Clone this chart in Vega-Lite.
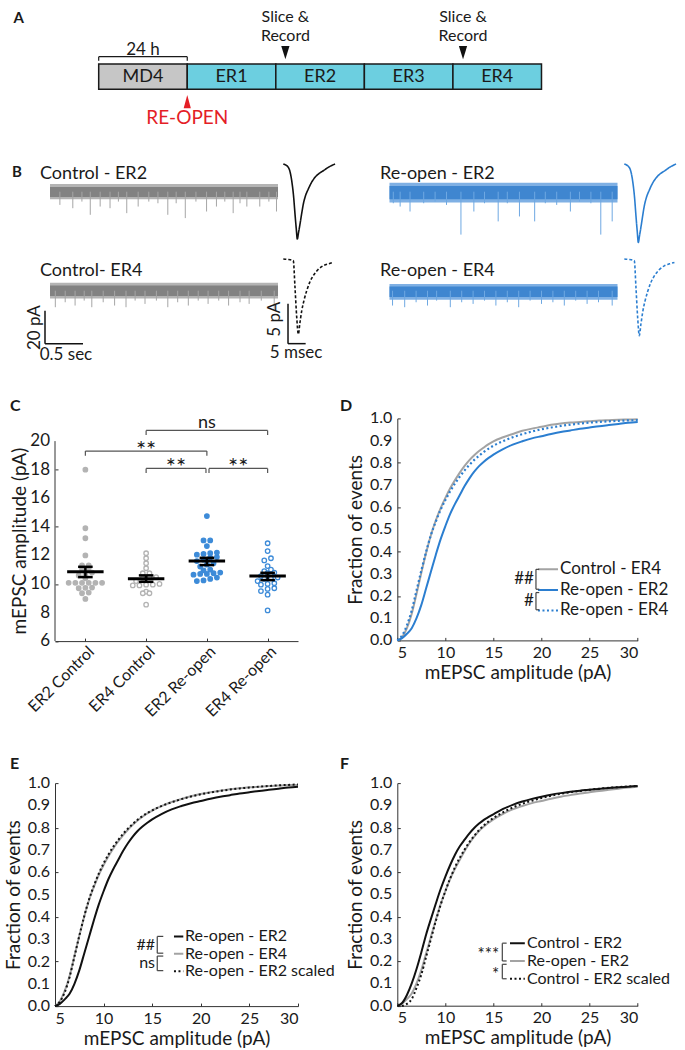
{
"$schema":"https://vega.github.io/schema/vega-lite/v6.json",
"autosize":{"type":"none"},
"padding":{"left":55,"top":10,"right":630,"bottom":1040},
"background":"white",
"config":{"font":"Lato","view":{"stroke":null},
"axis":{"grid":false,"labelFont":"Lato","titleFont":"Lato","labelFontSize":16,"titleFontSize":19,"titleFontWeight":"normal","labelColor":"#1a1a1a","titleColor":"#1a1a1a","domainColor":"#333333","tickColor":"#333333","tickSize":-3,"labelPadding":7,"labelOverlap":false},
"point":{"opacity":1},
"text":{"font":"Lato","color":"#1a1a1a"}},
"resolve":{"scale":{"color":"independent","fill":"independent","stroke":"independent","strokeDash":"independent"}},
"datasets":{
"segments":[{"phase":"MD4","stage":"Deprived","start":-1,"end":0},{"phase":"ER1","stage":"Re-opened","start":0,"end":1},{"phase":"ER2","stage":"Re-opened","start":1,"end":2},{"phase":"ER3","stage":"Re-opened","start":2,"end":3},{"phase":"ER4","stage":"Re-opened","start":3,"end":4}],
"events":[{"event":"Slice & Record","day":1.108},{"event":"Slice & Record","day":3.114}],
"bands":[{"cond":"Control","day":"ER2","start":0,"end":3,"lo":-3.2,"hi":2.8,"flo":-4.6,"fhi":4.6},{"cond":"Control","day":"ER4","start":0,"end":3,"lo":-3.2,"hi":3.2,"flo":-4.8,"fhi":4.8},{"cond":"Re-open","day":"ER2","start":0,"end":3,"lo":-4.5,"hi":3.5,"flo":-6.5,"fhi":5.5},{"cond":"Re-open","day":"ER4","start":0,"end":3,"lo":-3.8,"hi":2.5,"flo":-5.5,"fhi":4}],
"spikes":[
{"cond":"Control","day":"ER2","t":0.13,"amp":8},{"cond":"Control","day":"ER2","t":0.3,"amp":10},{"cond":"Control","day":"ER2","t":0.42,"amp":6},{"cond":"Control","day":"ER2","t":0.53,"amp":14},{"cond":"Control","day":"ER2","t":0.66,"amp":9},{"cond":"Control","day":"ER2","t":0.79,"amp":10},{"cond":"Control","day":"ER2","t":0.9,"amp":6},{"cond":"Control","day":"ER2","t":1.01,"amp":13},{"cond":"Control","day":"ER2","t":1.16,"amp":9},{"cond":"Control","day":"ER2","t":1.3,"amp":6},{"cond":"Control","day":"ER2","t":1.42,"amp":7},{"cond":"Control","day":"ER2","t":1.55,"amp":14},{"cond":"Control","day":"ER2","t":1.66,"amp":7},{"cond":"Control","day":"ER2","t":1.78,"amp":16},{"cond":"Control","day":"ER2","t":1.92,"amp":6},{"cond":"Control","day":"ER2","t":2.06,"amp":12},{"cond":"Control","day":"ER2","t":2.19,"amp":9},{"cond":"Control","day":"ER2","t":2.3,"amp":6},{"cond":"Control","day":"ER2","t":2.41,"amp":13},{"cond":"Control","day":"ER2","t":2.5,"amp":7},{"cond":"Control","day":"ER2","t":2.59,"amp":9},{"cond":"Control","day":"ER2","t":2.76,"amp":9},{"cond":"Control","day":"ER2","t":2.88,"amp":6},{"cond":"Control","day":"ER2","t":2.98,"amp":12},
{"cond":"Control","day":"ER4","t":0.07,"amp":10},{"cond":"Control","day":"ER4","t":0.2,"amp":7},{"cond":"Control","day":"ER4","t":0.33,"amp":9},{"cond":"Control","day":"ER4","t":0.45,"amp":6},{"cond":"Control","day":"ER4","t":0.55,"amp":10},{"cond":"Control","day":"ER4","t":0.7,"amp":7},{"cond":"Control","day":"ER4","t":0.85,"amp":9},{"cond":"Control","day":"ER4","t":1.0,"amp":10},{"cond":"Control","day":"ER4","t":1.12,"amp":6},{"cond":"Control","day":"ER4","t":1.25,"amp":8},{"cond":"Control","day":"ER4","t":1.4,"amp":6},{"cond":"Control","day":"ER4","t":1.55,"amp":10},{"cond":"Control","day":"ER4","t":1.68,"amp":7},{"cond":"Control","day":"ER4","t":1.82,"amp":9},{"cond":"Control","day":"ER4","t":1.95,"amp":6},{"cond":"Control","day":"ER4","t":2.08,"amp":8},{"cond":"Control","day":"ER4","t":2.22,"amp":6},{"cond":"Control","day":"ER4","t":2.35,"amp":9},{"cond":"Control","day":"ER4","t":2.5,"amp":7},{"cond":"Control","day":"ER4","t":2.62,"amp":8},{"cond":"Control","day":"ER4","t":2.78,"amp":6},{"cond":"Control","day":"ER4","t":2.95,"amp":11},
{"cond":"Re-open","day":"ER2","t":0.05,"amp":7},{"cond":"Re-open","day":"ER2","t":0.14,"amp":9},{"cond":"Re-open","day":"ER2","t":0.27,"amp":12},{"cond":"Re-open","day":"ER2","t":0.45,"amp":7},{"cond":"Re-open","day":"ER2","t":0.6,"amp":6},{"cond":"Re-open","day":"ER2","t":0.75,"amp":8},{"cond":"Re-open","day":"ER2","t":0.94,"amp":26},{"cond":"Re-open","day":"ER2","t":1.11,"amp":12},{"cond":"Re-open","day":"ER2","t":1.25,"amp":7},{"cond":"Re-open","day":"ER2","t":1.43,"amp":18},{"cond":"Re-open","day":"ER2","t":1.55,"amp":7},{"cond":"Re-open","day":"ER2","t":1.71,"amp":15},{"cond":"Re-open","day":"ER2","t":1.91,"amp":18},{"cond":"Re-open","day":"ER2","t":2.05,"amp":7},{"cond":"Re-open","day":"ER2","t":2.2,"amp":8},{"cond":"Re-open","day":"ER2","t":2.38,"amp":12},{"cond":"Re-open","day":"ER2","t":2.5,"amp":6},{"cond":"Re-open","day":"ER2","t":2.65,"amp":7},{"cond":"Re-open","day":"ER2","t":2.78,"amp":26},{"cond":"Re-open","day":"ER2","t":2.93,"amp":18},
{"cond":"Re-open","day":"ER4","t":0.04,"amp":9},{"cond":"Re-open","day":"ER4","t":0.2,"amp":10},{"cond":"Re-open","day":"ER4","t":0.35,"amp":7},{"cond":"Re-open","day":"ER4","t":0.5,"amp":9},{"cond":"Re-open","day":"ER4","t":0.62,"amp":6},{"cond":"Re-open","day":"ER4","t":0.8,"amp":10},{"cond":"Re-open","day":"ER4","t":0.95,"amp":7},{"cond":"Re-open","day":"ER4","t":1.1,"amp":8},{"cond":"Re-open","day":"ER4","t":1.25,"amp":6},{"cond":"Re-open","day":"ER4","t":1.4,"amp":9},{"cond":"Re-open","day":"ER4","t":1.55,"amp":7},{"cond":"Re-open","day":"ER4","t":1.7,"amp":10},{"cond":"Re-open","day":"ER4","t":1.85,"amp":6},{"cond":"Re-open","day":"ER4","t":2.0,"amp":8},{"cond":"Re-open","day":"ER4","t":2.15,"amp":7},{"cond":"Re-open","day":"ER4","t":2.3,"amp":9},{"cond":"Re-open","day":"ER4","t":2.45,"amp":6},{"cond":"Re-open","day":"ER4","t":2.6,"amp":8},{"cond":"Re-open","day":"ER4","t":2.75,"amp":7},{"cond":"Re-open","day":"ER4","t":2.93,"amp":9}],
"waves":[
{"cond":"Control","day":"ER2","t":0,"pA":0},{"cond":"Control","day":"ER2","t":1.42,"pA":-0.42},{"cond":"Control","day":"ER2","t":2.38,"pA":-2.09},{"cond":"Control","day":"ER2","t":2.9,"pA":-4.0},{"cond":"Control","day":"ER2","t":3.31,"pA":-6.25},{"cond":"Control","day":"ER2","t":3.65,"pA":-8.0},{"cond":"Control","day":"ER2","t":3.97,"pA":-9.375},{"cond":"Control","day":"ER2","t":4.3,"pA":-8.6},{"cond":"Control","day":"ER2","t":4.73,"pA":-7.5},{"cond":"Control","day":"ER2","t":5.2,"pA":-6.2},{"cond":"Control","day":"ER2","t":5.67,"pA":-5.0},{"cond":"Control","day":"ER2","t":6.3,"pA":-3.95},{"cond":"Control","day":"ER2","t":7.08,"pA":-3.125},{"cond":"Control","day":"ER2","t":8,"pA":-2.3},{"cond":"Control","day":"ER2","t":8.98,"pA":-1.67},{"cond":"Control","day":"ER2","t":10.1,"pA":-1.2},{"cond":"Control","day":"ER2","t":11.33,"pA":-0.84},{"cond":"Control","day":"ER2","t":13,"pA":-0.35},{"cond":"Control","day":"ER2","t":14.65,"pA":0},
{"cond":"Control","day":"ER4","t":0,"pA":0},{"cond":"Control","day":"ER4","t":1.2,"pA":-0.05},{"cond":"Control","day":"ER4","t":2.38,"pA":-0.125},{"cond":"Control","day":"ER4","t":2.83,"pA":-0.21},{"cond":"Control","day":"ER4","t":3.31,"pA":-3.55},{"cond":"Control","day":"ER4","t":3.8,"pA":-7.3},{"cond":"Control","day":"ER4","t":4.25,"pA":-9.4},{"cond":"Control","day":"ER4","t":4.7,"pA":-8.0},{"cond":"Control","day":"ER4","t":5.21,"pA":-6.5},{"cond":"Control","day":"ER4","t":5.9,"pA":-5.1},{"cond":"Control","day":"ER4","t":6.63,"pA":-3.96},{"cond":"Control","day":"ER4","t":7.5,"pA":-2.9},{"cond":"Control","day":"ER4","t":8.5,"pA":-2.08},{"cond":"Control","day":"ER4","t":9.8,"pA":-1.35},{"cond":"Control","day":"ER4","t":11.3,"pA":-0.84},{"cond":"Control","day":"ER4","t":12.8,"pA":-0.6},{"cond":"Control","day":"ER4","t":14.2,"pA":-0.42},
{"cond":"Re-open","day":"ER2","t":0,"pA":0},{"cond":"Re-open","day":"ER2","t":1.42,"pA":-0.44},{"cond":"Re-open","day":"ER2","t":2.38,"pA":-2.18},{"cond":"Re-open","day":"ER2","t":2.9,"pA":-4.18},{"cond":"Re-open","day":"ER2","t":3.31,"pA":-6.53},{"cond":"Re-open","day":"ER2","t":3.65,"pA":-8.36},{"cond":"Re-open","day":"ER2","t":3.97,"pA":-9.8},{"cond":"Re-open","day":"ER2","t":4.3,"pA":-8.99},{"cond":"Re-open","day":"ER2","t":4.73,"pA":-7.84},{"cond":"Re-open","day":"ER2","t":5.2,"pA":-6.48},{"cond":"Re-open","day":"ER2","t":5.67,"pA":-5.23},{"cond":"Re-open","day":"ER2","t":6.3,"pA":-4.13},{"cond":"Re-open","day":"ER2","t":7.08,"pA":-3.27},{"cond":"Re-open","day":"ER2","t":8,"pA":-2.4},{"cond":"Re-open","day":"ER2","t":8.98,"pA":-1.75},{"cond":"Re-open","day":"ER2","t":10.1,"pA":-1.25},{"cond":"Re-open","day":"ER2","t":11.33,"pA":-0.88},{"cond":"Re-open","day":"ER2","t":13,"pA":-0.37},{"cond":"Re-open","day":"ER2","t":14.65,"pA":0},
{"cond":"Re-open","day":"ER4","t":0,"pA":0},{"cond":"Re-open","day":"ER4","t":1.2,"pA":-0.05},{"cond":"Re-open","day":"ER4","t":2.38,"pA":-0.13},{"cond":"Re-open","day":"ER4","t":2.83,"pA":-0.21},{"cond":"Re-open","day":"ER4","t":3.31,"pA":-3.62},{"cond":"Re-open","day":"ER4","t":3.8,"pA":-7.45},{"cond":"Re-open","day":"ER4","t":4.25,"pA":-9.59},{"cond":"Re-open","day":"ER4","t":4.7,"pA":-8.16},{"cond":"Re-open","day":"ER4","t":5.21,"pA":-6.63},{"cond":"Re-open","day":"ER4","t":5.9,"pA":-5.2},{"cond":"Re-open","day":"ER4","t":6.63,"pA":-4.04},{"cond":"Re-open","day":"ER4","t":7.5,"pA":-2.96},{"cond":"Re-open","day":"ER4","t":8.5,"pA":-2.12},{"cond":"Re-open","day":"ER4","t":9.8,"pA":-1.38},{"cond":"Re-open","day":"ER4","t":11.3,"pA":-0.86},{"cond":"Re-open","day":"ER4","t":12.8,"pA":-0.61},{"cond":"Re-open","day":"ER4","t":14.2,"pA":-0.43}],
"amps":[
{"day":"ER2","cond":"Control","amp":18.0},{"day":"ER2","cond":"Control","amp":13.9},{"day":"ER2","cond":"Control","amp":13.2},{"day":"ER2","cond":"Control","amp":12.0},{"day":"ER2","cond":"Control","amp":11.3},{"day":"ER2","cond":"Control","amp":11.3},{"day":"ER2","cond":"Control","amp":11.1},{"day":"ER2","cond":"Control","amp":11.05},{"day":"ER2","cond":"Control","amp":10.8},{"day":"ER2","cond":"Control","amp":10.6},{"day":"ER2","cond":"Control","amp":10.6},{"day":"ER2","cond":"Control","amp":10.4},{"day":"ER2","cond":"Control","amp":10.08},{"day":"ER2","cond":"Control","amp":10.08},{"day":"ER2","cond":"Control","amp":10.08},{"day":"ER2","cond":"Control","amp":10.08},{"day":"ER2","cond":"Control","amp":10.08},{"day":"ER2","cond":"Control","amp":10.08},{"day":"ER2","cond":"Control","amp":9.75},{"day":"ER2","cond":"Control","amp":9.73},{"day":"ER2","cond":"Control","amp":9.7},{"day":"ER2","cond":"Control","amp":9.4},{"day":"ER2","cond":"Control","amp":9.35},{"day":"ER2","cond":"Control","amp":8.95},
{"day":"ER4","cond":"Control","amp":12.15},{"day":"ER4","cond":"Control","amp":11.8},{"day":"ER4","cond":"Control","amp":11.45},{"day":"ER4","cond":"Control","amp":11.1},{"day":"ER4","cond":"Control","amp":10.75},{"day":"ER4","cond":"Control","amp":10.75},{"day":"ER4","cond":"Control","amp":10.48},{"day":"ER4","cond":"Control","amp":10.48},{"day":"ER4","cond":"Control","amp":10.4},{"day":"ER4","cond":"Control","amp":10.2},{"day":"ER4","cond":"Control","amp":10.0},{"day":"ER4","cond":"Control","amp":9.95},{"day":"ER4","cond":"Control","amp":9.95},{"day":"ER4","cond":"Control","amp":9.9},{"day":"ER4","cond":"Control","amp":9.9},{"day":"ER4","cond":"Control","amp":9.46},{"day":"ER4","cond":"Control","amp":9.35},{"day":"ER4","cond":"Control","amp":9.35},{"day":"ER4","cond":"Control","amp":8.55},
{"day":"ER2","cond":"Re-open","amp":14.75},{"day":"ER2","cond":"Re-open","amp":13.05},{"day":"ER2","cond":"Re-open","amp":13.05},{"day":"ER2","cond":"Re-open","amp":12.65},{"day":"ER2","cond":"Re-open","amp":12.2},{"day":"ER2","cond":"Re-open","amp":12.15},{"day":"ER2","cond":"Re-open","amp":12.1},{"day":"ER2","cond":"Re-open","amp":12.05},{"day":"ER2","cond":"Re-open","amp":11.88},{"day":"ER2","cond":"Re-open","amp":11.85},{"day":"ER2","cond":"Re-open","amp":11.7},{"day":"ER2","cond":"Re-open","amp":11.6},{"day":"ER2","cond":"Re-open","amp":11.45},{"day":"ER2","cond":"Re-open","amp":11.35},{"day":"ER2","cond":"Re-open","amp":11.22},{"day":"ER2","cond":"Re-open","amp":11.0},{"day":"ER2","cond":"Re-open","amp":10.95},{"day":"ER2","cond":"Re-open","amp":10.8},{"day":"ER2","cond":"Re-open","amp":10.75},{"day":"ER2","cond":"Re-open","amp":10.7},{"day":"ER2","cond":"Re-open","amp":10.7},{"day":"ER2","cond":"Re-open","amp":10.65},{"day":"ER2","cond":"Re-open","amp":10.45},{"day":"ER2","cond":"Re-open","amp":10.35},{"day":"ER2","cond":"Re-open","amp":10.25},{"day":"ER2","cond":"Re-open","amp":10.2},
{"day":"ER4","cond":"Re-open","amp":12.85},{"day":"ER4","cond":"Re-open","amp":12.3},{"day":"ER4","cond":"Re-open","amp":11.8},{"day":"ER4","cond":"Re-open","amp":11.65},{"day":"ER4","cond":"Re-open","amp":11.25},{"day":"ER4","cond":"Re-open","amp":11.0},{"day":"ER4","cond":"Re-open","amp":10.9},{"day":"ER4","cond":"Re-open","amp":10.8},{"day":"ER4","cond":"Re-open","amp":10.75},{"day":"ER4","cond":"Re-open","amp":10.55},{"day":"ER4","cond":"Re-open","amp":10.45},{"day":"ER4","cond":"Re-open","amp":10.4},{"day":"ER4","cond":"Re-open","amp":10.35},{"day":"ER4","cond":"Re-open","amp":10.2},{"day":"ER4","cond":"Re-open","amp":10.05},{"day":"ER4","cond":"Re-open","amp":10.0},{"day":"ER4","cond":"Re-open","amp":9.95},{"day":"ER4","cond":"Re-open","amp":9.7},{"day":"ER4","cond":"Re-open","amp":9.65},{"day":"ER4","cond":"Re-open","amp":9.5},{"day":"ER4","cond":"Re-open","amp":9.25},{"day":"ER4","cond":"Re-open","amp":8.15}],
"stats":[{"day":"ER2","cond":"Control","mean":10.85,"lo":10.48,"hi":11.2},{"day":"ER4","cond":"Control","mean":10.36,"lo":10.15,"hi":10.6},{"day":"ER2","cond":"Re-open","mean":11.6,"lo":11.32,"hi":11.83},{"day":"ER4","cond":"Re-open","mean":10.55,"lo":10.27,"hi":10.78}],
"sig":[{"label":"**","from":1,"to":3,"level":19.3},{"label":"ns","from":2,"to":4,"level":20.75},{"label":"**","from":2,"to":2.985,"level":18.09},{"label":"**","from":3.035,"to":4,"level":18.09}],
"yticksC":[{"tick":6},{"tick":8},{"tick":10},{"tick":12},{"tick":14},{"tick":16},{"tick":18},{"tick":20}],
"yticksF":[{"tick":0},{"tick":0.1},{"tick":0.2},{"tick":0.3},{"tick":0.4},{"tick":0.5},{"tick":0.6},{"tick":0.7},{"tick":0.8},{"tick":0.9},{"tick":1.0}],
"R2":[{"amp":5,"frac":0},{"amp":5.5,"frac":0.01},{"amp":6,"frac":0.03},{"amp":6.5,"frac":0.055},{"amp":7,"frac":0.1},{"amp":7.5,"frac":0.16},{"amp":8,"frac":0.235},{"amp":8.5,"frac":0.31},{"amp":9,"frac":0.385},{"amp":9.5,"frac":0.455},{"amp":10,"frac":0.515},{"amp":10.5,"frac":0.57},{"amp":11,"frac":0.615},{"amp":11.5,"frac":0.655},{"amp":12,"frac":0.695},{"amp":12.5,"frac":0.73},{"amp":13,"frac":0.76},{"amp":13.5,"frac":0.785},{"amp":14,"frac":0.805},{"amp":14.5,"frac":0.822},{"amp":15,"frac":0.837},{"amp":16,"frac":0.862},{"amp":17,"frac":0.882},{"amp":18,"frac":0.897},{"amp":19,"frac":0.91},{"amp":20,"frac":0.92},{"amp":21,"frac":0.93},{"amp":22,"frac":0.939},{"amp":23,"frac":0.946},{"amp":24,"frac":0.953},{"amp":25,"frac":0.959},{"amp":26,"frac":0.965},{"amp":27,"frac":0.97},{"amp":28,"frac":0.975},{"amp":29,"frac":0.98},{"amp":30,"frac":0.984}],
"C4":[{"amp":5,"frac":0},{"amp":5.5,"frac":0.015},{"amp":6,"frac":0.055},{"amp":6.5,"frac":0.12},{"amp":7,"frac":0.21},{"amp":7.5,"frac":0.305},{"amp":8,"frac":0.395},{"amp":8.5,"frac":0.475},{"amp":9,"frac":0.54},{"amp":9.5,"frac":0.595},{"amp":10,"frac":0.642},{"amp":10.5,"frac":0.685},{"amp":11,"frac":0.722},{"amp":11.5,"frac":0.756},{"amp":12,"frac":0.786},{"amp":12.5,"frac":0.812},{"amp":13,"frac":0.834},{"amp":13.5,"frac":0.853},{"amp":14,"frac":0.869},{"amp":14.5,"frac":0.884},{"amp":15,"frac":0.897},{"amp":16,"frac":0.915},{"amp":17,"frac":0.93},{"amp":18,"frac":0.944},{"amp":19,"frac":0.954},{"amp":20,"frac":0.962},{"amp":21,"frac":0.971},{"amp":22,"frac":0.977},{"amp":23,"frac":0.981},{"amp":24,"frac":0.984},{"amp":25,"frac":0.987},{"amp":26,"frac":0.99},{"amp":27,"frac":0.992},{"amp":28,"frac":0.994},{"amp":29,"frac":0.995},{"amp":30,"frac":0.996}],
"R4":[{"amp":5,"frac":0},{"amp":5.5,"frac":0.022},{"amp":6,"frac":0.068},{"amp":6.5,"frac":0.135},{"amp":7,"frac":0.225},{"amp":7.5,"frac":0.315},{"amp":8,"frac":0.4},{"amp":8.5,"frac":0.475},{"amp":9,"frac":0.535},{"amp":9.5,"frac":0.588},{"amp":10,"frac":0.632},{"amp":10.5,"frac":0.672},{"amp":11,"frac":0.707},{"amp":11.5,"frac":0.738},{"amp":12,"frac":0.766},{"amp":12.5,"frac":0.791},{"amp":13,"frac":0.813},{"amp":13.5,"frac":0.832},{"amp":14,"frac":0.849},{"amp":14.5,"frac":0.864},{"amp":15,"frac":0.877},{"amp":16,"frac":0.898},{"amp":17,"frac":0.915},{"amp":18,"frac":0.929},{"amp":19,"frac":0.941},{"amp":20,"frac":0.951},{"amp":21,"frac":0.959},{"amp":22,"frac":0.966},{"amp":23,"frac":0.972},{"amp":24,"frac":0.977},{"amp":25,"frac":0.981},{"amp":26,"frac":0.984},{"amp":27,"frac":0.987},{"amp":28,"frac":0.989},{"amp":29,"frac":0.991},{"amp":30,"frac":0.992}],
"R2s":[{"amp":5,"frac":0},{"amp":5.5,"frac":0.02},{"amp":6,"frac":0.062},{"amp":6.5,"frac":0.13},{"amp":7,"frac":0.222},{"amp":7.5,"frac":0.315},{"amp":8,"frac":0.402},{"amp":8.5,"frac":0.478},{"amp":9,"frac":0.54},{"amp":9.5,"frac":0.594},{"amp":10,"frac":0.64},{"amp":10.5,"frac":0.68},{"amp":11,"frac":0.715},{"amp":11.5,"frac":0.745},{"amp":12,"frac":0.772},{"amp":12.5,"frac":0.796},{"amp":13,"frac":0.817},{"amp":13.5,"frac":0.836},{"amp":14,"frac":0.852},{"amp":14.5,"frac":0.866},{"amp":15,"frac":0.878},{"amp":16,"frac":0.898},{"amp":17,"frac":0.914},{"amp":18,"frac":0.928},{"amp":19,"frac":0.94},{"amp":20,"frac":0.95},{"amp":21,"frac":0.958},{"amp":22,"frac":0.965},{"amp":23,"frac":0.971},{"amp":24,"frac":0.976},{"amp":25,"frac":0.98},{"amp":26,"frac":0.984},{"amp":27,"frac":0.987},{"amp":28,"frac":0.99},{"amp":29,"frac":0.992},{"amp":30,"frac":0.994}],
"C2":[{"amp":5,"frac":0},{"amp":5.5,"frac":0.012},{"amp":6,"frac":0.048},{"amp":6.5,"frac":0.1},{"amp":7,"frac":0.165},{"amp":7.5,"frac":0.24},{"amp":8,"frac":0.32},{"amp":8.5,"frac":0.39},{"amp":9,"frac":0.458},{"amp":9.5,"frac":0.523},{"amp":10,"frac":0.58},{"amp":10.5,"frac":0.632},{"amp":11,"frac":0.678},{"amp":11.5,"frac":0.716},{"amp":12,"frac":0.746},{"amp":12.5,"frac":0.774},{"amp":13,"frac":0.798},{"amp":13.5,"frac":0.818},{"amp":14,"frac":0.835},{"amp":14.5,"frac":0.848},{"amp":15,"frac":0.86},{"amp":16,"frac":0.884},{"amp":17,"frac":0.902},{"amp":18,"frac":0.917},{"amp":19,"frac":0.929},{"amp":20,"frac":0.939},{"amp":21,"frac":0.948},{"amp":22,"frac":0.955},{"amp":23,"frac":0.961},{"amp":24,"frac":0.966},{"amp":25,"frac":0.97},{"amp":26,"frac":0.974},{"amp":27,"frac":0.978},{"amp":28,"frac":0.981},{"amp":29,"frac":0.984},{"amp":30,"frac":0.987}],
"C2s":[{"amp":5,"frac":0},{"amp":5.5,"frac":0},{"amp":6,"frac":0.008},{"amp":6.5,"frac":0.03},{"amp":7,"frac":0.08},{"amp":7.5,"frac":0.14},{"amp":8,"frac":0.22},{"amp":8.5,"frac":0.3},{"amp":9,"frac":0.38},{"amp":9.5,"frac":0.452},{"amp":10,"frac":0.515},{"amp":10.5,"frac":0.572},{"amp":11,"frac":0.622},{"amp":11.5,"frac":0.665},{"amp":12,"frac":0.702},{"amp":12.5,"frac":0.735},{"amp":13,"frac":0.763},{"amp":13.5,"frac":0.789},{"amp":14,"frac":0.81},{"amp":14.5,"frac":0.828},{"amp":15,"frac":0.843},{"amp":16,"frac":0.869},{"amp":17,"frac":0.89},{"amp":18,"frac":0.907},{"amp":19,"frac":0.921},{"amp":20,"frac":0.933},{"amp":21,"frac":0.943},{"amp":22,"frac":0.952},{"amp":23,"frac":0.959},{"amp":24,"frac":0.965},{"amp":25,"frac":0.97},{"amp":26,"frac":0.975},{"amp":27,"frac":0.979},{"amp":28,"frac":0.982},{"amp":29,"frac":0.985},{"amp":30,"frac":0.987}]
},
"columns":2,
"bounds":"flush",
"align":"each",
"spacing":{"row":141.7,"column":99.3},
"concat":[
{"width":243,"height":8.3,
"layer":[
{"data":{"name":"segments"},"mark":{"type":"rect","stroke":"#1a1a1a","strokeWidth":1.5},"encoding":{"x":{"field":"start","type":"quantitative","scale":{"domain":[-1.4934,1.2505],"nice":false,"zero":false},"axis":null},"x2":{"field":"end"},"y":{"datum":0,"type":"quantitative","scale":{"domain":[2.806,3.134],"nice":false,"zero":false},"axis":null},"y2":{"datum":1},"fill":{"field":"stage","type":"nominal","scale":{"domain":["Deprived","Re-opened"],"range":["#c6c6c6","#6ccfe0"]},"legend":null}}},
{"data":{"name":"segments"},"transform":[{"calculate":"(datum.start+datum.end)/2","as":"mid"}],"mark":{"type":"text","fontSize":18,"baseline":"middle","align":"center"},"encoding":{"x":{"field":"mid","type":"quantitative","scale":{"domain":[-1.4934,1.2505],"nice":false,"zero":false},"axis":null},"y":{"datum":0.5,"type":"quantitative","scale":{"domain":[2.806,3.134],"nice":false,"zero":false},"axis":null},"text":{"field":"phase"}}},
{"data":{"values":[{"label":"24 h","start":-1,"end":0}]},"mark":{"type":"rule","color":"#1a1a1a","strokeWidth":1.2},"encoding":{"x":{"field":"start","type":"quantitative","scale":{"domain":[-1.4934,1.2505],"nice":false,"zero":false},"axis":null},"x2":{"field":"end"},"y":{"datum":1.289,"type":"quantitative","scale":{"domain":[2.806,3.134],"nice":false,"zero":false},"axis":null}}},
{"data":{"values":[{"edge":-1},{"edge":0}]},"mark":{"type":"rule","color":"#1a1a1a","strokeWidth":1.2},"encoding":{"x":{"field":"edge","type":"quantitative","scale":{"domain":[-1.4934,1.2505],"nice":false,"zero":false},"axis":null},"y":{"datum":1.13,"type":"quantitative","scale":{"domain":[2.806,3.134],"nice":false,"zero":false},"axis":null},"y2":{"datum":1.289}}},
{"data":{"values":[{"label":"24 h","start":-1,"end":0}]},"transform":[{"calculate":"(datum.start+datum.end)/2","as":"mid"}],"mark":{"type":"text","fontSize":17,"baseline":"alphabetic","align":"center"},"encoding":{"x":{"field":"mid","type":"quantitative","scale":{"domain":[-1.4934,1.2505],"nice":false,"zero":false},"axis":null},"y":{"datum":1.356,"type":"quantitative","scale":{"domain":[2.806,3.134],"nice":false,"zero":false},"axis":null},"text":{"field":"label"}}},
{"data":{"name":"events"},"mark":{"type":"text","fontSize":16,"baseline":"alphabetic","align":"center"},"encoding":{"x":{"field":"day","type":"quantitative","scale":{"domain":[-1.4934,1.2505],"nice":false,"zero":false},"axis":null},"y":{"datum":2.66,"type":"quantitative","scale":{"domain":[2.806,3.134],"nice":false,"zero":false},"axis":null},"text":{"value":"Slice &"}}},
{"data":{"name":"events"},"mark":{"type":"text","fontSize":16,"baseline":"alphabetic","align":"center"},"encoding":{"x":{"field":"day","type":"quantitative","scale":{"domain":[-1.4934,1.2505],"nice":false,"zero":false},"axis":null},"y":{"datum":1.921,"type":"quantitative","scale":{"domain":[2.806,3.134],"nice":false,"zero":false},"axis":null},"text":{"value":"Record"}}},
{"data":{"name":"events"},"mark":{"type":"point","shape":"M-0.62,-1L0.62,-1L0,1Z","size":177,"filled":true,"color":"#111111","opacity":1,"strokeWidth":0},"encoding":{"x":{"field":"day","type":"quantitative","scale":{"domain":[-1.4934,1.2505],"nice":false,"zero":false},"axis":null},"y":{"datum":1.447,"type":"quantitative","scale":{"domain":[2.806,3.134],"nice":false,"zero":false},"axis":null}}},
{"data":{"values":[{"label":"RE-OPEN","day":0}]},"mark":{"type":"point","shape":"M-0.54,1L0.54,1L0,-1Z","size":177,"filled":true,"color":"#e41e26","opacity":1,"strokeWidth":0},"encoding":{"x":{"field":"day","type":"quantitative","scale":{"domain":[-1.4934,1.2505],"nice":false,"zero":false},"axis":null},"y":{"datum":-0.49,"type":"quantitative","scale":{"domain":[2.806,3.134],"nice":false,"zero":false},"axis":null}}},
{"data":{"values":[{"label":"RE-OPEN","day":0}]},"mark":{"type":"text","fontSize":19,"baseline":"alphabetic","align":"center","color":"#e41e26"},"encoding":{"x":{"field":"day","type":"quantitative","scale":{"domain":[-1.4934,1.2505],"nice":false,"zero":false},"axis":null},"y":{"datum":-1.372,"type":"quantitative","scale":{"domain":[2.806,3.134],"nice":false,"zero":false},"axis":null},"text":{"field":"label"}}},
{"data":{"values":[{"label":"A"}]},"mark":{"type":"text","fontSize":15,"fontWeight":"bold","baseline":"alphabetic","align":"left"},"encoding":{"x":{"datum":-1.961,"type":"quantitative","scale":{"domain":[-1.4934,1.2505],"nice":false,"zero":false},"axis":null},"y":{"datum":2.609,"type":"quantitative","scale":{"domain":[2.806,3.134],"nice":false,"zero":false},"axis":null},"text":{"field":"label"}}}
]},
{"width":240,"height":8.3,"data":{"values":[{"v":0}]},"mark":{"type":"point","opacity":0},"encoding":{"x":{"field":"v","type":"quantitative","axis":null},"y":{"field":"v","type":"quantitative","axis":null}}},
{"width":243,"height":115.6,
"layer":[
{"layer":[
{"data":{"name":"bands"},"transform":[{"filter":"datum.cond=='Control'"},{"calculate":"datum.day=='ER2'?0:-60","as":"base"},{"calculate":"datum.base+datum.flo","as":"ylo"},{"calculate":"datum.base+datum.fhi","as":"yhi"}],"mark":{"type":"rect","color":"#b4b4b4"},"encoding":{"x":{"field":"start","type":"quantitative","scale":{"domain":[0.0658,3.263],"nice":false,"zero":false},"axis":null},"x2":{"field":"end"},"y":{"field":"ylo","type":"quantitative","scale":{"domain":[-51.27,18.79],"nice":false,"zero":false},"axis":null},"y2":{"field":"yhi"}}},
{"data":{"name":"bands"},"transform":[{"filter":"datum.cond=='Control'"},{"calculate":"datum.day=='ER2'?0:-60","as":"base"},{"calculate":"datum.base+datum.lo","as":"ylo"},{"calculate":"datum.base+datum.hi","as":"yhi"}],"mark":{"type":"rect","color":"#828282"},"encoding":{"x":{"field":"start","type":"quantitative","scale":{"domain":[0.0658,3.263],"nice":false,"zero":false},"axis":null},"x2":{"field":"end"},"y":{"field":"ylo","type":"quantitative","scale":{"domain":[-51.27,18.79],"nice":false,"zero":false},"axis":null},"y2":{"field":"yhi"}}},
{"data":{"name":"spikes"},"transform":[{"filter":"datum.cond=='Control'"},{"calculate":"datum.day=='ER2'?0:-60","as":"base"},{"calculate":"datum.base-datum.amp","as":"tip"}],"mark":{"type":"rule","color":"#a6a6a6","strokeWidth":1},"encoding":{"x":{"field":"t","type":"quantitative","scale":{"domain":[0.0658,3.263],"nice":false,"zero":false},"axis":null},"y":{"field":"tip","type":"quantitative","scale":{"domain":[-51.27,18.79],"nice":false,"zero":false},"axis":null},"y2":{"field":"base"}}},
{"data":{"values":[{"label":"Control - ER2","day":"ER2"},{"label":"Control- ER4","day":"ER4"}]},"transform":[{"calculate":"datum.day=='ER2'?7.9:-51","as":"ty"}],"mark":{"type":"text","fontSize":18,"baseline":"alphabetic","align":"left"},"encoding":{"x":{"datum":-0.1316,"type":"quantitative","scale":{"domain":[0.0658,3.263],"nice":false,"zero":false},"axis":null},"y":{"field":"ty","type":"quantitative","scale":{"domain":[-51.27,18.79],"nice":false,"zero":false},"axis":null},"text":{"field":"label"}}},
{"data":{"values":[{"label":"B"}]},"mark":{"type":"text","fontSize":15,"fontWeight":"bold","baseline":"alphabetic","align":"left"},"encoding":{"x":{"datum":-0.5,"type":"quantitative","scale":{"domain":[0.0658,3.263],"nice":false,"zero":false},"axis":null},"y":{"datum":9.1,"type":"quantitative","scale":{"domain":[-51.27,18.79],"nice":false,"zero":false},"axis":null},"text":{"field":"label"}}},
{"data":{"values":[{"bar":"20 pA"}]},"mark":{"type":"rule","color":"#111111","strokeWidth":1.5},"encoding":{"x":{"datum":-0.0658,"type":"quantitative","scale":{"domain":[0.0658,3.263],"nice":false,"zero":false},"axis":null},"y":{"datum":-72.1,"type":"quantitative","scale":{"domain":[-51.27,18.79],"nice":false,"zero":false},"axis":null},"y2":{"datum":-92.1}}},
{"data":{"values":[{"bar":"0.5 sec"}]},"mark":{"type":"rule","color":"#111111","strokeWidth":1.5},"encoding":{"x":{"datum":-0.0658,"type":"quantitative","scale":{"domain":[0.0658,3.263],"nice":false,"zero":false},"axis":null},"x2":{"datum":0.4342},"y":{"datum":-92.1,"type":"quantitative","scale":{"domain":[-51.27,18.79],"nice":false,"zero":false},"axis":null}}},
{"data":{"values":[{"label":"20 pA"}]},"mark":{"type":"text","fontSize":17,"angle":270,"baseline":"middle","align":"center"},"encoding":{"x":{"datum":-0.197,"type":"quantitative","scale":{"domain":[0.0658,3.263],"nice":false,"zero":false},"axis":null},"y":{"datum":-82.4,"type":"quantitative","scale":{"domain":[-51.27,18.79],"nice":false,"zero":false},"axis":null},"text":{"field":"label"}}},
{"data":{"values":[{"label":"0.5 sec"}]},"mark":{"type":"text","fontSize":17,"baseline":"alphabetic","align":"center"},"encoding":{"x":{"datum":0.21,"type":"quantitative","scale":{"domain":[0.0658,3.263],"nice":false,"zero":false},"axis":null},"y":{"datum":-101.8,"type":"quantitative","scale":{"domain":[-51.27,18.79],"nice":false,"zero":false},"axis":null},"text":{"field":"label"}}}
]},
{"layer":[
{"data":{"name":"waves"},"transform":[{"filter":"datum.cond=='Control'"},{"calculate":"datum.day=='ER2'?0:-11.875","as":"base"},{"calculate":"datum.base+datum.pA","as":"yv"}],"mark":{"type":"line","color":"#111111","strokeWidth":1.6,"interpolate":"monotone"},"encoding":{"x":{"field":"t","type":"quantitative","scale":{"domain":[-64.67,4.16],"nice":false,"zero":false},"axis":null},"y":{"field":"yv","type":"quantitative","scale":{"domain":[-14.04,0.4125],"nice":false,"zero":false},"axis":null},"detail":{"field":"day"},"strokeDash":{"field":"day","type":"nominal","scale":{"domain":["ER2","ER4"],"range":[[1,0],[3,2]]},"legend":null}}},
{"data":{"values":[{"bar":"5 pA"}]},"mark":{"type":"rule","color":"#111111","strokeWidth":1.5},"encoding":{"x":{"datum":1.33,"type":"quantitative","scale":{"domain":[-64.67,4.16],"nice":false,"zero":false},"axis":null},"y":{"datum":-17.46,"type":"quantitative","scale":{"domain":[-14.04,0.4125],"nice":false,"zero":false},"axis":null},"y2":{"datum":-22.46}}},
{"data":{"values":[{"bar":"5 msec"}]},"mark":{"type":"rule","color":"#111111","strokeWidth":1.5},"encoding":{"x":{"datum":1.33,"type":"quantitative","scale":{"domain":[-64.67,4.16],"nice":false,"zero":false},"axis":null},"x2":{"datum":6.33},"y":{"datum":-22.46,"type":"quantitative","scale":{"domain":[-14.04,0.4125],"nice":false,"zero":false},"axis":null}}},
{"data":{"values":[{"label":"5 pA"}]},"mark":{"type":"text","fontSize":17,"angle":270,"baseline":"middle","align":"center"},"encoding":{"x":{"datum":-2.35,"type":"quantitative","scale":{"domain":[-64.67,4.16],"nice":false,"zero":false},"axis":null},"y":{"datum":-19.4,"type":"quantitative","scale":{"domain":[-14.04,0.4125],"nice":false,"zero":false},"axis":null},"text":{"field":"label"}}},
{"data":{"values":[{"label":"5 msec"}]},"mark":{"type":"text","fontSize":17,"baseline":"alphabetic","align":"center"},"encoding":{"x":{"datum":3.6,"type":"quantitative","scale":{"domain":[-64.67,4.16],"nice":false,"zero":false},"axis":null},"y":{"datum":-24.3,"type":"quantitative","scale":{"domain":[-14.04,0.4125],"nice":false,"zero":false},"axis":null},"text":{"field":"label"}}}
]}
],
"resolve":{"scale":{"x":"independent","y":"independent"}}},
{"width":240,"height":115.6,
"layer":[
{"layer":[
{"data":{"name":"bands"},"transform":[{"filter":"datum.cond=='Re-open'"},{"calculate":"datum.day=='ER2'?0:-60","as":"base"},{"calculate":"datum.base+datum.flo","as":"ylo"},{"calculate":"datum.base+datum.fhi","as":"yhi"}],"mark":{"type":"rect","color":"#7fb0e4"},"encoding":{"x":{"field":"start","type":"quantitative","scale":{"domain":[0.1026,3.2605],"nice":false,"zero":false},"axis":null},"x2":{"field":"end"},"y":{"field":"ylo","type":"quantitative","scale":{"domain":[-51.27,18.79],"nice":false,"zero":false},"axis":null},"y2":{"field":"yhi"}}},
{"data":{"name":"bands"},"transform":[{"filter":"datum.cond=='Re-open'"},{"calculate":"datum.day=='ER2'?0:-60","as":"base"},{"calculate":"datum.base+datum.lo","as":"ylo"},{"calculate":"datum.base+datum.hi","as":"yhi"}],"mark":{"type":"rect","color":"#3f86d0"},"encoding":{"x":{"field":"start","type":"quantitative","scale":{"domain":[0.1026,3.2605],"nice":false,"zero":false},"axis":null},"x2":{"field":"end"},"y":{"field":"ylo","type":"quantitative","scale":{"domain":[-51.27,18.79],"nice":false,"zero":false},"axis":null},"y2":{"field":"yhi"}}},
{"data":{"name":"spikes"},"transform":[{"filter":"datum.cond=='Re-open'"},{"calculate":"datum.day=='ER2'?0:-60","as":"base"},{"calculate":"datum.base-datum.amp","as":"tip"}],"mark":{"type":"rule","color":"#6ea8e2","strokeWidth":1},"encoding":{"x":{"field":"t","type":"quantitative","scale":{"domain":[0.1026,3.2605],"nice":false,"zero":false},"axis":null},"y":{"field":"tip","type":"quantitative","scale":{"domain":[-51.27,18.79],"nice":false,"zero":false},"axis":null},"y2":{"field":"base"}}},
{"data":{"values":[{"label":"Re-open - ER2","day":"ER2"},{"label":"Re-open - ER4","day":"ER4"}]},"transform":[{"calculate":"datum.day=='ER2'?7.9:-51","as":"ty"}],"mark":{"type":"text","fontSize":18,"baseline":"alphabetic","align":"left"},"encoding":{"x":{"datum":-0.125,"type":"quantitative","scale":{"domain":[0.1026,3.2605],"nice":false,"zero":false},"axis":null},"y":{"field":"ty","type":"quantitative","scale":{"domain":[-51.27,18.79],"nice":false,"zero":false},"axis":null},"text":{"field":"label"}}}
]},
{"layer":[
{"data":{"name":"waves"},"transform":[{"filter":"datum.cond=='Re-open'"},{"calculate":"datum.day=='ER2'?0:-11.875","as":"base"},{"calculate":"datum.base+datum.pA","as":"yv"}],"mark":{"type":"line","color":"#2b7ed0","strokeWidth":1.6,"interpolate":"monotone"},"encoding":{"x":{"field":"t","type":"quantitative","scale":{"domain":[-64.31,3.68],"nice":false,"zero":false},"axis":null},"y":{"field":"yv","type":"quantitative","scale":{"domain":[-14.04,0.4125],"nice":false,"zero":false},"axis":null},"detail":{"field":"day"},"strokeDash":{"field":"day","type":"nominal","scale":{"domain":["ER2","ER4"],"range":[[1,0],[3,2]]},"legend":null}}}
]}
],
"resolve":{"scale":{"x":"independent","y":"independent"}}},
{"width":243,"height":222.7,
"layer":[
{"data":{"values":[{"axis":"y"}]},"mark":{"type":"rule","color":"#333333","strokeWidth":1},"encoding":{"x":{"datum":0.5,"type":"quantitative","scale":{"domain":[0.5,4.5],"nice":false,"zero":false}},"y":{"datum":6,"type":"quantitative","scale":{"domain":[6,21.589],"nice":false,"zero":false}},"y2":{"datum":20}}},
{"data":{"name":"yticksC"},"mark":{"type":"text","fontSize":17,"align":"right","baseline":"middle","dx":-5},"encoding":{"x":{"datum":0.5,"type":"quantitative","scale":{"domain":[0.5,4.5],"nice":false,"zero":false}},"y":{"field":"tick","type":"quantitative","scale":{"domain":[6,21.589],"nice":false,"zero":false}},"text":{"field":"tick","type":"quantitative"}}},
{"data":{"name":"sig"},"mark":{"type":"rule","color":"#555555","strokeWidth":1.2},"encoding":{"x":{"field":"from","type":"quantitative","scale":{"domain":[0.5,4.5],"nice":false,"zero":false}},"x2":{"field":"to"},"y":{"field":"level","type":"quantitative","scale":{"domain":[6,21.589],"nice":false,"zero":false}}}},
{"data":{"name":"sig"},"transform":[{"fold":["from","to"],"as":["end","xe"]},{"calculate":"datum.level-0.33","as":"legb"}],"mark":{"type":"rule","color":"#555555","strokeWidth":1.2},"encoding":{"x":{"field":"xe","type":"quantitative","scale":{"domain":[0.5,4.5],"nice":false,"zero":false}},"y":{"field":"legb","type":"quantitative","scale":{"domain":[6,21.589],"nice":false,"zero":false}},"y2":{"field":"level"}}},
{"data":{"name":"sig"},"transform":[{"filter":"datum.label=='ns'"},{"calculate":"(datum.from+datum.to)/2","as":"mid"},{"calculate":"datum.level+0.18","as":"ly"}],"mark":{"type":"text","fontSize":18,"baseline":"alphabetic","align":"center"},"encoding":{"x":{"field":"mid","type":"quantitative","scale":{"domain":[0.5,4.5],"nice":false,"zero":false}},"y":{"field":"ly","type":"quantitative","scale":{"domain":[6,21.589],"nice":false,"zero":false}},"text":{"field":"label"}}},
{"data":{"name":"sig"},"transform":[{"filter":"datum.label!='ns'"},{"calculate":"(datum.from+datum.to)/2","as":"mid"},{"calculate":"datum.level-0.47","as":"ly"}],"mark":{"type":"text","fontSize":24,"baseline":"alphabetic","align":"center"},"encoding":{"x":{"field":"mid","type":"quantitative","scale":{"domain":[0.5,4.5],"nice":false,"zero":false}},"y":{"field":"ly","type":"quantitative","scale":{"domain":[6,21.589],"nice":false,"zero":false}},"text":{"field":"label"}}},
{"data":{"name":"amps"},"transform":[{"calculate":"datum.cond=='Control'?(datum.day=='ER2'?1:2):(datum.day=='ER2'?3:4)","as":"gi"},{"calculate":"floor(datum.amp/0.35)","as":"bin"},{"window":[{"op":"row_number","as":"r"}],"groupby":["gi","bin"],"sort":[{"field":"amp","order":"ascending"}]},{"joinaggregate":[{"op":"count","as":"n"}],"groupby":["gi","bin"]},{"calculate":"datum.gi+(datum.r-(datum.n+1)/2)*0.11","as":"xp"},{"calculate":"datum.day=='ER2'?datum.cond:'open'","as":"fillkey"}],"mark":{"type":"circle","size":20,"strokeWidth":1.3,"opacity":1},"encoding":{"x":{"field":"xp","type":"quantitative","scale":{"domain":[0.5,4.5],"nice":false,"zero":false},"axis":{"values":[1,2,3,4],"labelExpr":"datum.value==1?'ER2 Control':datum.value==2?'ER4 Control':datum.value==3?'ER2 Re-open':'ER4 Re-open'","labelAngle":-45,"title":null,"labelFontSize":16,"labelPadding":5,"labelOverlap":false}},"y":{"field":"amp","type":"quantitative","scale":{"domain":[6,21.589],"nice":false,"zero":false},"axis":{"values":[6,8,10,12,14,16,18,20],"domain":false,"title":null,"labels":false}},"fill":{"field":"fillkey","type":"nominal","scale":{"domain":["Control","Re-open","open"],"range":["#b3b3b3","#3d8bd8","#ffffff"]},"legend":null},"stroke":{"field":"cond","type":"nominal","scale":{"domain":["Control","Re-open"],"range":["#b3b3b3","#3d8bd8"]},"legend":null}}},
{"data":{"name":"stats"},"transform":[{"calculate":"datum.cond=='Control'?(datum.day=='ER2'?1:2):(datum.day=='ER2'?3:4)","as":"gi"},{"calculate":"datum.gi-0.3","as":"xa"},{"calculate":"datum.gi+0.3","as":"xb"}],"mark":{"type":"rule","color":"#000000","strokeWidth":3},"encoding":{"x":{"field":"xa","type":"quantitative","scale":{"domain":[0.5,4.5],"nice":false,"zero":false}},"x2":{"field":"xb"},"y":{"field":"mean","type":"quantitative","scale":{"domain":[6,21.589],"nice":false,"zero":false}}}},
{"data":{"name":"stats"},"transform":[{"calculate":"datum.cond=='Control'?(datum.day=='ER2'?1:2):(datum.day=='ER2'?3:4)","as":"gi"},{"fold":["lo","hi"],"as":["edge","val"]},{"calculate":"datum.gi-0.12","as":"xa"},{"calculate":"datum.gi+0.12","as":"xb"}],"mark":{"type":"rule","color":"#000000","strokeWidth":2.5},"encoding":{"x":{"field":"xa","type":"quantitative","scale":{"domain":[0.5,4.5],"nice":false,"zero":false}},"x2":{"field":"xb"},"y":{"field":"val","type":"quantitative","scale":{"domain":[6,21.589],"nice":false,"zero":false}}}},
{"data":{"name":"stats"},"transform":[{"calculate":"datum.cond=='Control'?(datum.day=='ER2'?1:2):(datum.day=='ER2'?3:4)","as":"gi"}],"mark":{"type":"rule","color":"#000000","strokeWidth":2.5},"encoding":{"x":{"field":"gi","type":"quantitative","scale":{"domain":[0.5,4.5],"nice":false,"zero":false}},"y":{"field":"lo","type":"quantitative","scale":{"domain":[6,21.589],"nice":false,"zero":false}},"y2":{"field":"hi"}}},
{"data":{"values":[{"label":"C"}]},"mark":{"type":"text","fontSize":16,"fontWeight":"bold","baseline":"alphabetic","align":"left"},"encoding":{"x":{"datum":-0.241,"type":"quantitative","scale":{"domain":[0.5,4.5],"nice":false,"zero":false}},"y":{"datum":22.1,"type":"quantitative","scale":{"domain":[6,21.589],"nice":false,"zero":false}},"text":{"field":"label"}}},
{"data":{"values":[{"label":"mEPSC amplitude (pA)"}]},"mark":{"type":"text","fontSize":19,"angle":270,"baseline":"middle","align":"center"},"encoding":{"x":{"datum":-0.076,"type":"quantitative","scale":{"domain":[0.5,4.5],"nice":false,"zero":false}},"y":{"datum":13.0,"type":"quantitative","scale":{"domain":[6,21.589],"nice":false,"zero":false}},"text":{"field":"label"}}}
]},
{"width":240.4,"height":222,
"layer":[
{"data":{"name":"C4"},"mark":{"type":"line","color":"#a3a3a3","strokeWidth":2,"interpolate":"monotone"},"encoding":{"x":{"field":"amp","type":"quantitative","scale":{"domain":[5,30],"nice":false,"zero":false},"axis":{"values":[5,10,15,20,25,30],"title":"mEPSC amplitude (pA)","titlePadding":3,"labelOverlap":false}},"y":{"field":"frac","type":"quantitative","scale":{"domain":[0,1],"nice":false,"zero":false},"axis":{"values":[0,0.1,0.2,0.3,0.4,0.5,0.6,0.7,0.8,0.9,1],"labels":false,"title":"Fraction of events","titlePadding":31}}}},
{"data":{"name":"yticksF"},"mark":{"type":"text","fontSize":16,"align":"right","baseline":"middle","dx":-5},"encoding":{"x":{"datum":5,"type":"quantitative","scale":{"domain":[5,30],"nice":false,"zero":false}},"y":{"field":"tick","type":"quantitative","scale":{"domain":[0,1],"nice":false,"zero":false}},"text":{"field":"tick","type":"quantitative","format":".1f"}}},
{"data":{"name":"R4"},"mark":{"type":"line","color":"#2b7ed0","strokeWidth":2.2,"strokeDash":[2,2.5],"interpolate":"monotone"},"encoding":{"x":{"field":"amp","type":"quantitative","scale":{"domain":[5,30],"nice":false,"zero":false}},"y":{"field":"frac","type":"quantitative","scale":{"domain":[0,1],"nice":false,"zero":false}}}},
{"data":{"name":"R2"},"mark":{"type":"line","color":"#2b7ed0","strokeWidth":2,"interpolate":"monotone"},"encoding":{"x":{"field":"amp","type":"quantitative","scale":{"domain":[5,30],"nice":false,"zero":false}},"y":{"field":"frac","type":"quantitative","scale":{"domain":[0,1],"nice":false,"zero":false}}}},
{"data":{"values":[{"series":"Control - ER4","rank":1},{"series":"Re-open - ER2","rank":2},{"series":"Re-open - ER4","rank":3}]},"transform":[{"calculate":"0.32-(datum.rank-1)*0.0925","as":"ly"}],"mark":{"type":"rule","strokeWidth":2},"encoding":{"x":{"datum":19.63,"type":"quantitative","scale":{"domain":[5,30],"nice":false,"zero":false}},"x2":{"datum":21.71},"y":{"field":"ly","type":"quantitative","scale":{"domain":[0,1],"nice":false,"zero":false}},"color":{"field":"series","type":"nominal","scale":{"domain":["Control - ER4","Re-open - ER2","Re-open - ER4"],"range":["#a3a3a3","#2b7ed0","#2b7ed0"]},"legend":null},"strokeDash":{"field":"series","type":"nominal","scale":{"domain":["Control - ER4","Re-open - ER2","Re-open - ER4"],"range":[[1,0],[1,0],[2,2.5]]},"legend":null}}},
{"data":{"values":[{"series":"Control - ER4","rank":1},{"series":"Re-open - ER2","rank":2},{"series":"Re-open - ER4","rank":3}]},"transform":[{"calculate":"0.32-(datum.rank-1)*0.0925","as":"ly"}],"mark":{"type":"text","fontSize":17,"baseline":"middle","align":"left"},"encoding":{"x":{"datum":21.92,"type":"quantitative","scale":{"domain":[5,30],"nice":false,"zero":false}},"y":{"field":"ly","type":"quantitative","scale":{"domain":[0,1],"nice":false,"zero":false}},"text":{"field":"series"}}},
{"data":{"values":[{"label":"##","from":1,"to":2},{"label":"#","from":2,"to":3}]},"transform":[{"calculate":"0.32-(datum.from-1)*0.0925-(datum.from>1?0.012:0)","as":"top"},{"calculate":"0.32-(datum.to-1)*0.0925+0.003","as":"bot"}],"mark":{"type":"rule","color":"#444444","strokeWidth":1.2},"encoding":{"x":{"datum":19.42,"type":"quantitative","scale":{"domain":[5,30],"nice":false,"zero":false}},"y":{"field":"top","type":"quantitative","scale":{"domain":[0,1],"nice":false,"zero":false}},"y2":{"field":"bot"}}},
{"data":{"values":[{"label":"##","from":1,"to":2},{"label":"#","from":2,"to":3}]},"transform":[{"calculate":"0.32-(datum.from-1)*0.0925-(datum.from>1?0.012:0)","as":"top"},{"calculate":"0.32-(datum.to-1)*0.0925+0.003","as":"bot"},{"fold":["top","bot"],"as":["end","ye"]}],"mark":{"type":"rule","color":"#444444","strokeWidth":1.2},"encoding":{"x":{"datum":19.42,"type":"quantitative","scale":{"domain":[5,30],"nice":false,"zero":false}},"x2":{"datum":19.76},"y":{"field":"ye","type":"quantitative","scale":{"domain":[0,1],"nice":false,"zero":false}}}},
{"data":{"values":[{"label":"##","from":1,"to":2},{"label":"#","from":2,"to":3}]},"transform":[{"calculate":"0.32-(datum.from-1)*0.0925-(datum.from>1?0.012:0)","as":"top"},{"calculate":"0.32-(datum.to-1)*0.0925+0.003","as":"bot"},{"calculate":"(datum.top+datum.bot)/2","as":"mid"}],"mark":{"type":"text","fontSize":17,"baseline":"middle","align":"right"},"encoding":{"x":{"datum":19.21,"type":"quantitative","scale":{"domain":[5,30],"nice":false,"zero":false}},"y":{"field":"mid","type":"quantitative","scale":{"domain":[0,1],"nice":false,"zero":false}},"text":{"field":"label"}}},
{"data":{"values":[{"label":"D"}]},"mark":{"type":"text","fontSize":16,"fontWeight":"bold","baseline":"alphabetic","align":"left"},"encoding":{"x":{"datum":-0.96,"type":"quantitative","scale":{"domain":[5,30],"nice":false,"zero":false}},"y":{"datum":1.033,"type":"quantitative","scale":{"domain":[0,1],"nice":false,"zero":false}},"text":{"field":"label"}}}
]},
{"width":243,"height":223,
"layer":[
{"data":{"name":"R4"},"mark":{"type":"line","color":"#a3a3a3","strokeWidth":2,"interpolate":"monotone"},"encoding":{"x":{"field":"amp","type":"quantitative","scale":{"domain":[5,30],"nice":false,"zero":false},"axis":{"values":[5,10,15,20,25,30],"title":"mEPSC amplitude (pA)","titlePadding":3,"labelOverlap":false}},"y":{"field":"frac","type":"quantitative","scale":{"domain":[0,1],"nice":false,"zero":false},"axis":{"values":[0,0.1,0.2,0.3,0.4,0.5,0.6,0.7,0.8,0.9,1],"labels":false,"title":"Fraction of events","titlePadding":31}}}},
{"data":{"name":"yticksF"},"mark":{"type":"text","fontSize":16,"align":"right","baseline":"middle","dx":-5},"encoding":{"x":{"datum":5,"type":"quantitative","scale":{"domain":[5,30],"nice":false,"zero":false}},"y":{"field":"tick","type":"quantitative","scale":{"domain":[0,1],"nice":false,"zero":false}},"text":{"field":"tick","type":"quantitative","format":".1f"}}},
{"data":{"name":"R2s"},"mark":{"type":"line","color":"#111111","strokeWidth":2,"strokeDash":[2,2.5],"interpolate":"monotone"},"encoding":{"x":{"field":"amp","type":"quantitative","scale":{"domain":[5,30],"nice":false,"zero":false}},"y":{"field":"frac","type":"quantitative","scale":{"domain":[0,1],"nice":false,"zero":false}}}},
{"data":{"name":"R2"},"mark":{"type":"line","color":"#111111","strokeWidth":2,"interpolate":"monotone"},"encoding":{"x":{"field":"amp","type":"quantitative","scale":{"domain":[5,30],"nice":false,"zero":false}},"y":{"field":"frac","type":"quantitative","scale":{"domain":[0,1],"nice":false,"zero":false}}}},
{"data":{"values":[{"series":"Re-open - ER2","rank":1},{"series":"Re-open - ER4","rank":2},{"series":"Re-open - ER2 scaled","rank":3}]},"transform":[{"calculate":"0.3126-(datum.rank-1)*0.0783","as":"ly"}],"mark":{"type":"rule","strokeWidth":2},"encoding":{"x":{"datum":17.24,"type":"quantitative","scale":{"domain":[5,30],"nice":false,"zero":false}},"x2":{"datum":18.2},"y":{"field":"ly","type":"quantitative","scale":{"domain":[0,1],"nice":false,"zero":false}},"color":{"field":"series","type":"nominal","scale":{"domain":["Re-open - ER2","Re-open - ER4","Re-open - ER2 scaled"],"range":["#111111","#a3a3a3","#111111"]},"legend":null},"strokeDash":{"field":"series","type":"nominal","scale":{"domain":["Re-open - ER2","Re-open - ER4","Re-open - ER2 scaled"],"range":[[1,0],[1,0],[2,2.5]]},"legend":null}}},
{"data":{"values":[{"series":"Re-open - ER2","rank":1},{"series":"Re-open - ER4","rank":2},{"series":"Re-open - ER2 scaled","rank":3}]},"transform":[{"calculate":"0.3126-(datum.rank-1)*0.0783","as":"ly"}],"mark":{"type":"text","fontSize":16,"baseline":"middle","align":"left"},"encoding":{"x":{"datum":18.37,"type":"quantitative","scale":{"domain":[5,30],"nice":false,"zero":false}},"y":{"field":"ly","type":"quantitative","scale":{"domain":[0,1],"nice":false,"zero":false}},"text":{"field":"series"}}},
{"data":{"values":[{"label":"##","from":1,"to":2},{"label":"ns","from":2,"to":3}]},"transform":[{"calculate":"0.3126-(datum.from-1)*0.0783-(datum.from>1?0.01:0)","as":"top"},{"calculate":"0.3126-(datum.to-1)*0.0783+0.003","as":"bot"}],"mark":{"type":"rule","color":"#444444","strokeWidth":1.2},"encoding":{"x":{"datum":15.52,"type":"quantitative","scale":{"domain":[5,30],"nice":false,"zero":false}},"y":{"field":"top","type":"quantitative","scale":{"domain":[0,1],"nice":false,"zero":false}},"y2":{"field":"bot"}}},
{"data":{"values":[{"label":"##","from":1,"to":2},{"label":"ns","from":2,"to":3}]},"transform":[{"calculate":"0.3126-(datum.from-1)*0.0783-(datum.from>1?0.01:0)","as":"top"},{"calculate":"0.3126-(datum.to-1)*0.0783+0.003","as":"bot"},{"fold":["top","bot"],"as":["end","ye"]}],"mark":{"type":"rule","color":"#444444","strokeWidth":1.2},"encoding":{"x":{"datum":15.52,"type":"quantitative","scale":{"domain":[5,30],"nice":false,"zero":false}},"x2":{"datum":16.14},"y":{"field":"ye","type":"quantitative","scale":{"domain":[0,1],"nice":false,"zero":false}}}},
{"data":{"values":[{"label":"##","from":1,"to":2},{"label":"ns","from":2,"to":3}]},"transform":[{"calculate":"0.3126-(datum.from-1)*0.0783-(datum.from>1?0.01:0)","as":"top"},{"calculate":"0.3126-(datum.to-1)*0.0783+0.003","as":"bot"},{"calculate":"(datum.top+datum.bot)/2","as":"mid"}],"mark":{"type":"text","fontSize":16,"baseline":"middle","align":"right"},"encoding":{"x":{"datum":15.29,"type":"quantitative","scale":{"domain":[5,30],"nice":false,"zero":false}},"y":{"field":"mid","type":"quantitative","scale":{"domain":[0,1],"nice":false,"zero":false}},"text":{"field":"label"}}},
{"data":{"values":[{"label":"E"}]},"mark":{"type":"text","fontSize":16,"fontWeight":"bold","baseline":"alphabetic","align":"left"},"encoding":{"x":{"datum":0.37,"type":"quantitative","scale":{"domain":[5,30],"nice":false,"zero":false}},"y":{"datum":1.061,"type":"quantitative","scale":{"domain":[0,1],"nice":false,"zero":false}},"text":{"field":"label"}}}
]},
{"width":240.4,"height":222.6,
"layer":[
{"data":{"name":"R2"},"mark":{"type":"line","color":"#a3a3a3","strokeWidth":2,"interpolate":"monotone"},"encoding":{"x":{"field":"amp","type":"quantitative","scale":{"domain":[5,30],"nice":false,"zero":false},"axis":{"values":[5,10,15,20,25,30],"title":"mEPSC amplitude (pA)","titlePadding":3,"labelOverlap":false}},"y":{"field":"frac","type":"quantitative","scale":{"domain":[0,1],"nice":false,"zero":false},"axis":{"values":[0,0.1,0.2,0.3,0.4,0.5,0.6,0.7,0.8,0.9,1],"labels":false,"title":"Fraction of events","titlePadding":31}}}},
{"data":{"name":"yticksF"},"mark":{"type":"text","fontSize":16,"align":"right","baseline":"middle","dx":-5},"encoding":{"x":{"datum":5,"type":"quantitative","scale":{"domain":[5,30],"nice":false,"zero":false}},"y":{"field":"tick","type":"quantitative","scale":{"domain":[0,1],"nice":false,"zero":false}},"text":{"field":"tick","type":"quantitative","format":".1f"}}},
{"data":{"name":"C2s"},"mark":{"type":"line","color":"#111111","strokeWidth":2,"strokeDash":[2,2.5],"interpolate":"monotone"},"encoding":{"x":{"field":"amp","type":"quantitative","scale":{"domain":[5,30],"nice":false,"zero":false}},"y":{"field":"frac","type":"quantitative","scale":{"domain":[0,1],"nice":false,"zero":false}}}},
{"data":{"name":"C2"},"mark":{"type":"line","color":"#111111","strokeWidth":2,"interpolate":"monotone"},"encoding":{"x":{"field":"amp","type":"quantitative","scale":{"domain":[5,30],"nice":false,"zero":false}},"y":{"field":"frac","type":"quantitative","scale":{"domain":[0,1],"nice":false,"zero":false}}}},
{"data":{"values":[{"series":"Control - ER2","rank":1},{"series":"Re-open - ER2","rank":2},{"series":"Control - ER2 scaled","rank":3}]},"transform":[{"calculate":"0.281-(datum.rank-1)*0.08","as":"ly"}],"mark":{"type":"rule","strokeWidth":2},"encoding":{"x":{"datum":16.72,"type":"quantitative","scale":{"domain":[5,30],"nice":false,"zero":false}},"x2":{"datum":18.26},"y":{"field":"ly","type":"quantitative","scale":{"domain":[0,1],"nice":false,"zero":false}},"color":{"field":"series","type":"nominal","scale":{"domain":["Control - ER2","Re-open - ER2","Control - ER2 scaled"],"range":["#111111","#a3a3a3","#111111"]},"legend":null},"strokeDash":{"field":"series","type":"nominal","scale":{"domain":["Control - ER2","Re-open - ER2","Control - ER2 scaled"],"range":[[1,0],[1,0],[2,2.5]]},"legend":null}}},
{"data":{"values":[{"series":"Control - ER2","rank":1},{"series":"Re-open - ER2","rank":2},{"series":"Control - ER2 scaled","rank":3}]},"transform":[{"calculate":"0.281-(datum.rank-1)*0.08","as":"ly"}],"mark":{"type":"text","fontSize":16,"baseline":"middle","align":"left"},"encoding":{"x":{"datum":18.48,"type":"quantitative","scale":{"domain":[5,30],"nice":false,"zero":false}},"y":{"field":"ly","type":"quantitative","scale":{"domain":[0,1],"nice":false,"zero":false}},"text":{"field":"series"}}},
{"data":{"values":[{"label":"***","from":1,"to":2},{"label":"*","from":2,"to":3}]},"transform":[{"calculate":"0.281-(datum.from-1)*0.08-(datum.from>1?0.015:0)","as":"top"},{"calculate":"0.281-(datum.to-1)*0.08","as":"bot"}],"mark":{"type":"rule","color":"#444444","strokeWidth":1.2},"encoding":{"x":{"datum":15.92,"type":"quantitative","scale":{"domain":[5,30],"nice":false,"zero":false}},"y":{"field":"top","type":"quantitative","scale":{"domain":[0,1],"nice":false,"zero":false}},"y2":{"field":"bot"}}},
{"data":{"values":[{"label":"***","from":1,"to":2},{"label":"*","from":2,"to":3}]},"transform":[{"calculate":"0.281-(datum.from-1)*0.08-(datum.from>1?0.015:0)","as":"top"},{"calculate":"0.281-(datum.to-1)*0.08","as":"bot"},{"fold":["top","bot"],"as":["end","ye"]}],"mark":{"type":"rule","color":"#444444","strokeWidth":1.2},"encoding":{"x":{"datum":15.92,"type":"quantitative","scale":{"domain":[5,30],"nice":false,"zero":false}},"x2":{"datum":16.37},"y":{"field":"ye","type":"quantitative","scale":{"domain":[0,1],"nice":false,"zero":false}}}},
{"data":{"values":[{"label":"***","from":1,"to":2},{"label":"*","from":2,"to":3}]},"transform":[{"calculate":"0.281-(datum.from-1)*0.08-(datum.from>1?0.015:0)","as":"top"},{"calculate":"0.281-(datum.to-1)*0.08","as":"bot"},{"calculate":"(datum.top+datum.bot)/2","as":"mid"}],"mark":{"type":"text","fontSize":17,"baseline":"middle","align":"right","dy":3},"encoding":{"x":{"datum":15.6,"type":"quantitative","scale":{"domain":[5,30],"nice":false,"zero":false}},"y":{"field":"mid","type":"quantitative","scale":{"domain":[0,1],"nice":false,"zero":false}},"text":{"field":"label"}}},
{"data":{"values":[{"label":"F"}]},"mark":{"type":"text","fontSize":16,"fontWeight":"bold","baseline":"alphabetic","align":"left"},"encoding":{"x":{"datum":-0.96,"type":"quantitative","scale":{"domain":[5,30],"nice":false,"zero":false}},"y":{"datum":1.065,"type":"quantitative","scale":{"domain":[0,1],"nice":false,"zero":false}},"text":{"field":"label"}}}
]}
]
}
